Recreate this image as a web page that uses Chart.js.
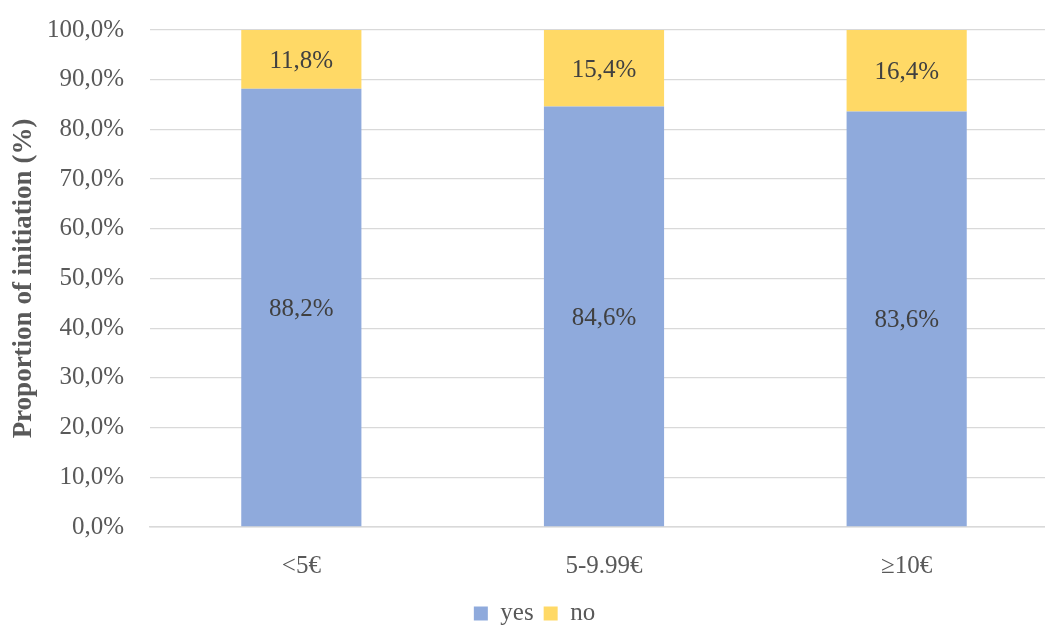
<!DOCTYPE html>
<html>
<head>
<meta charset="utf-8">
<script src="https://cdn.jsdelivr.net/npm/chart.js@4/dist/chart.umd.min.js"></script>
<style>
  html, body { margin: 0; padding: 0; background: #fff; overflow: hidden; }
  #wrap { width: 1058px; height: 626px; }
</style>
</head>
<body>
<div id="wrap"><canvas id="c" width="1058" height="626"></canvas></div>
<script>
const categories = ['<5€', '5-9.99€', '≥10€'];
const yesValues = [88.2, 84.6, 83.6];
const noValues = [11.8, 15.4, 16.4];
const seriesNames = ['yes', 'no'];

const SERIF = '"Liberation Serif", "Times New Roman", serif';
const fmt = v => v.toFixed(1).replace('.', ',') + '%';

// Value labels centred inside each bar segment
const segmentLabels = {
  id: 'segmentLabels',
  afterDatasetsDraw(chart) {
    const ctx = chart.ctx;
    ctx.save();
    ctx.font = '25px ' + SERIF;
    ctx.fillStyle = '#404040';
    ctx.textAlign = 'center';
    ctx.textBaseline = 'middle';
    chart.data.datasets.forEach((ds, di) => {
      chart.getDatasetMeta(di).data.forEach((bar, i) => {
        const p = bar.getProps(['x', 'y', 'base'], true);
        ctx.fillText(fmt(ds.data[i]), p.x, (p.y + p.base) / 2 + 2);
      });
    });
    ctx.restore();
  }
};

// Nudge the legend a little to the right of the canvas centre
const legendShift = {
  id: 'legendShift',
  afterLayout(chart) {
    if (chart.legend) { chart.legend.left += 11; }
  }
};

new Chart(document.getElementById('c'), {
  type: 'bar',
  data: {
    labels: categories,
    datasets: [
      { label: seriesNames[0], data: yesValues, backgroundColor: '#8FAADC' },
      { label: seriesNames[1], data: noValues, backgroundColor: '#FFD966' }
    ]
  },
  options: {
    responsive: false,
    animation: false,
    layout: { padding: { top: 30, right: 0, left: 0, bottom: -10 } },
    datasets: { bar: { categoryPercentage: 1, barPercentage: 0.397 } },
    scales: {
      x: {
        stacked: true,
        grid: { display: false, drawTicks: false },
        border: { display: true, color: '#D9D9D9', width: 1.5 },
        ticks: { font: { family: SERIF, size: 25 }, color: '#595959', padding: 24 },
        afterFit: s => { s.height = 64; }
      },
      y: {
        stacked: true,
        min: 0, max: 100,
        ticks: { stepSize: 10, callback: v => fmt(v), font: { family: SERIF, size: 25 }, color: '#595959', padding: 26 },
        grid: { color: '#D9D9D9', lineWidth: 1.3, drawTicks: false },
        border: { display: false },
        title: { display: true, text: 'Proportion of initiation (%)', font: { family: SERIF, size: 27, weight: 'bold' }, color: '#595959', padding: { top: 8, bottom: 0 } },
        afterFit: s => { s.width = 150; s.paddingTop = 0; s.paddingBottom = 0; }
      }
    },
    plugins: {
      legend: {
        position: 'bottom',
        labels: { font: { family: SERIF, size: 25 }, color: '#595959', boxWidth: 14, boxHeight: 14, padding: 10 }
      },
      tooltip: { enabled: false }
    }
  },
  plugins: [segmentLabels, legendShift]
});
</script>
</body>
</html>
